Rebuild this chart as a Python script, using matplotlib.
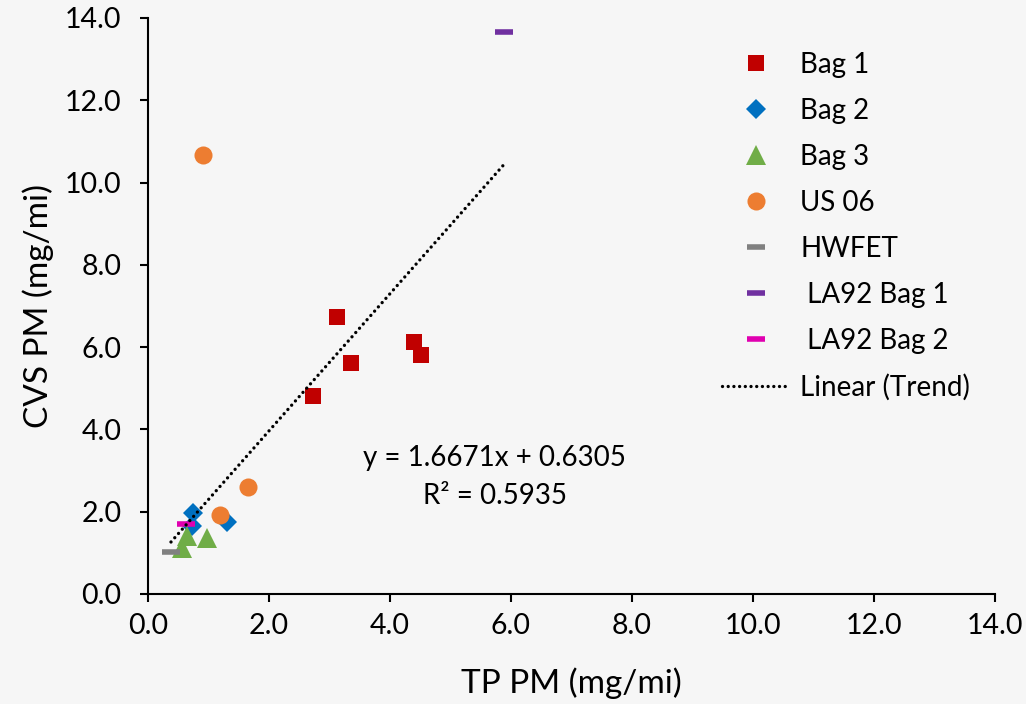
import matplotlib
matplotlib.use("Agg")
import matplotlib.pyplot as plt
import numpy as np

plt.rcParams['font.family'] = ['Lato', 'DejaVu Sans']

# ---- data ----
bag1_x = [3.12, 3.35, 4.39, 4.52, 2.72]
bag1_y = [6.73, 5.61, 6.12, 5.81, 4.82]
bag2_x = [0.74, 0.73, 1.30]
bag2_y = [1.96, 1.65, 1.76]
bag3_x = [0.64, 0.56, 0.97]
bag3_y = [1.40, 1.12, 1.35]
us06_x = [0.91, 1.19, 1.65]
us06_y = [10.68, 1.92, 2.61]
hwfet_x = [0.38]
hwfet_y = [1.03]
la92b1_x = [5.88]
la92b1_y = [13.66]
la92b2_x = [0.63]
la92b2_y = [1.69]

trend_slope = 1.6671
trend_intercept = 0.6305
trend_r2 = 0.5935

axis_ticks = [0, 2, 4, 6, 8, 10, 12, 14]

# ---- figure ----
W, H = 1026, 704
bg = '#f6f6f6'
fig = plt.figure(figsize=(W / 100, H / 100), dpi=100)
fig.patch.set_facecolor(bg)
ax = fig.add_axes([148 / W, 1 - 594 / H, (995 - 148) / W, (594 - 18) / H])
ax.set_facecolor(bg)

ax.plot(bag1_x, bag1_y, 's', color='#c00000', ms=12, mew=0, label='Bag 1', zorder=3)
ax.plot(bag2_x, bag2_y, 'D', color='#0070c0', ms=10, mew=0, label='Bag 2', zorder=3)
ax.plot(bag3_x, bag3_y, '^', color='#70ad47', ms=14, mew=0, label='Bag 3', zorder=3)
ax.plot(us06_x, us06_y, 'o', color='#ed7d31', ms=13, mew=0, label='US 06', zorder=3)
ax.plot(hwfet_x, hwfet_y, '_', color='#808080', ms=13, mew=4, label='HWFET', zorder=3)
ax.plot(la92b1_x, la92b1_y, '_', color='#7030a0', ms=13, mew=4, label=' LA92 Bag 1', zorder=3)
ax.plot(la92b2_x, la92b2_y, '_', color='#e000b0', ms=13, mew=4, label=' LA92 Bag 2', zorder=3)

all_x = bag1_x + bag2_x + bag3_x + us06_x + hwfet_x + la92b1_x + la92b2_x
tx = np.array([min(all_x), max(all_x)])
ty = trend_slope * tx + trend_intercept
ax.plot(tx, ty, color='black', lw=2.4, ls=(0, (0.01, 1.7)), dash_capstyle='round',
        label='Linear (Trend)', zorder=4)

ax.text(5.73, 2.84, f"y = {trend_slope}x + {trend_intercept}\nR² = {trend_r2}",
        ha='center', va='center', fontsize=20, linespacing=1.55, zorder=5)

ax.set_xlim(0, 14)
ax.set_ylim(0, 14)
ax.set_xticks(axis_ticks)
ax.set_yticks(axis_ticks)
ax.set_xticklabels([f"{v:.1f}" for v in axis_ticks])
ax.set_yticklabels([f"{v:.1f}" for v in axis_ticks])
for s in ['top', 'right']:
    ax.spines[s].set_visible(False)
for s in ['left', 'bottom']:
    ax.spines[s].set_linewidth(1.5)
    ax.spines[s].set_color('black')
ax.tick_params(axis='both', direction='out', length=6, width=1.5, labelsize=20.5)
ax.tick_params(axis='x', pad=8)
ax.tick_params(axis='y', pad=13)

ax.set_xlabel('TP PM (mg/mi)', fontsize=24, labelpad=20)
ax.set_ylabel('CVS PM (mg/mi)', fontsize=24, labelpad=8)

leg = ax.legend(loc='upper left', bbox_to_anchor=(722 / W, 1 - 52 / H),
                bbox_transform=fig.transFigure, frameon=False, fontsize=20,
                handlelength=2.45, handletextpad=0.36, labelspacing=0.72,
                borderpad=0, borderaxespad=0)

fig.savefig('out.png', dpi=100, facecolor=fig.get_facecolor())
